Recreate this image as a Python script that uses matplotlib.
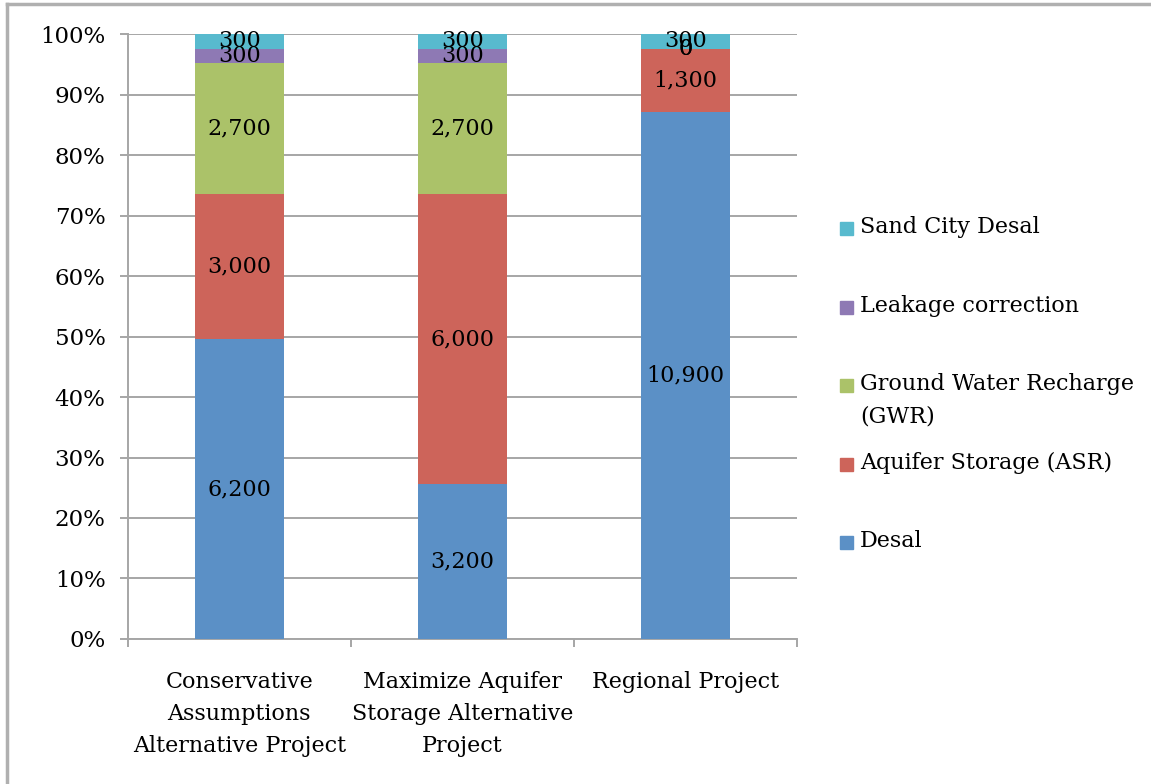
import numpy as np
import matplotlib.pyplot as plt
from matplotlib.patches import Rectangle
from matplotlib.lines import Line2D

plt.rcParams['font.family'] = ['DejaVu Serif']

categories = ["Conservative\nAssumptions\nAlternative Project",
              "Maximize Aquifer\nStorage Alternative\nProject",
              "Regional Project"]
series = ["Desal", "Aquifer Storage (ASR)", "Ground Water Recharge\n(GWR)",
          "Leakage correction", "Sand City Desal"]
desal = [6200, 3200, 10900]
asr = [3000, 6000, 1300]
gwr = [2700, 2700, 0]
leakage = [300, 300, 0]
sand_city = [300, 300, 300]
colors = ["#5B90C6", "#CD645A", "#ABC269", "#8E79B4", "#58BACE"]

values = np.array([desal, asr, gwr, leakage, sand_city], dtype=float)
totals = values.sum(axis=0)
shares = values / totals * 100

W, H = 1151, 784
fig = plt.figure(figsize=(W / 100, H / 100), dpi=100)
ax = fig.add_axes([0.111, 0.185, 0.5815, 0.7715])

x = np.arange(len(categories))
bottom = np.zeros(len(categories))
for vals, share, name, col in zip(values, shares, series, colors):
    bars = ax.bar(x, share, 0.4, bottom=bottom, color=col, label=name, zorder=3)
    ax.bar_label(bars, labels=[f"{v:,.0f}" for v in vals], label_type='center',
                 fontsize=16, color='black', zorder=4)
    bottom += share

ax.set_xlim(-0.5, 2.5)
ax.set_ylim(0, 100)
ax.set_yticks(np.arange(0, 101, 10))
ax.set_yticklabels([f"{t}%" for t in range(0, 101, 10)], fontsize=16.5)
ax.yaxis.grid(True, color='#a6a6a6', linewidth=1.4, zorder=0)
ax.tick_params(axis='y', length=6, width=1.4, color='#a6a6a6', pad=10)

ax.set_xticks(x)
ax.set_xticklabels(categories, fontsize=16, linespacing=1.6)
ax.set_xticks(np.arange(-0.5, 3, 1), minor=True)
ax.tick_params(axis='x', which='major', length=0, pad=23)
ax.tick_params(axis='x', which='minor', length=6, width=1.4, color='#a6a6a6')

for s in ['top', 'right']:
    ax.spines[s].set_visible(False)
for s in ['left', 'bottom']:
    ax.spines[s].set_color('#a6a6a6')
    ax.spines[s].set_linewidth(1.4)

# legend laid out in evenly spaced slots (Excel style), top entry = last series
slot_top, slot_step = 228, 78.5
for i, (name, col) in enumerate(zip(series[::-1], colors[::-1])):
    yc = slot_top + i * slot_step
    fig.add_artist(Rectangle(((W - 1151 + 840) / W, 1 - (yc + 7) / H), 13 / W, 13 / H,
                             transform=fig.transFigure, color=col))
    fig.text(860 / W, 1 - (yc - 12) / H, name, fontsize=16, va='top', ha='left',
             linespacing=1.6)

# outer frame of the chart area
fig.add_artist(Line2D([0.006, 0.006], [0, 0.995], color='#b0b0b0', lw=2.5))
fig.add_artist(Line2D([0.006, 1], [0.995, 0.995], color='#b0b0b0', lw=2.5))

fig.savefig("out.png", dpi=100)
